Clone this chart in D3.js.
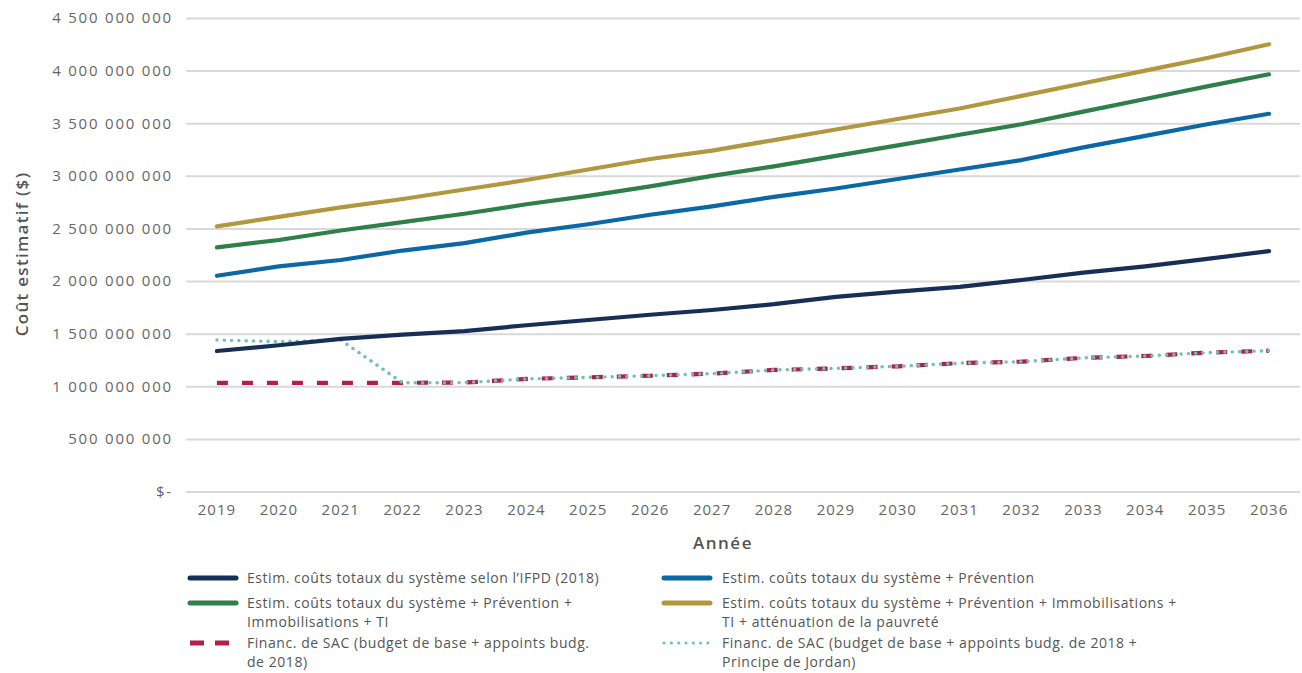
<!DOCTYPE html>
<html><head><meta charset="utf-8">
<script src="https://cdn.jsdelivr.net/npm/d3@7"></script>
<style>body{margin:0;background:#fff;}svg{display:block;font-family:"Open Sans",sans-serif;}</style>
</head><body><svg id="c" width="1302" height="673"></svg>
<script>
const years = [2019,2020,2021,2022,2023,2024,2025,2026,2027,2028,2029,2030,2031,2032,2033,2034,2035,2036];
const yTicks = [0,500e6,1000e6,1500e6,2000e6,2500e6,3000e6,3500e6,4000e6,4500e6];
const ifpd = [1.335,1.39,1.45,1.49,1.525,1.58,1.63,1.68,1.725,1.78,1.85,1.90,1.945,2.01,2.08,2.14,2.21,2.285];
const prev = [2.05,2.14,2.20,2.29,2.36,2.46,2.54,2.63,2.71,2.80,2.88,2.97,3.06,3.15,3.27,3.38,3.49,3.59];
const prevImmo = [2.32,2.39,2.48,2.56,2.64,2.73,2.81,2.90,3.00,3.09,3.19,3.29,3.39,3.49,3.61,3.73,3.85,3.965];
const prevImmoPauv = [2.52,2.61,2.70,2.78,2.87,2.96,3.06,3.16,3.24,3.34,3.44,3.54,3.64,3.76,3.88,4.00,4.12,4.25];
const sac = [1.033,1.033,1.033,1.033,1.035,1.07,1.085,1.10,1.12,1.155,1.17,1.19,1.22,1.234,1.27,1.288,1.32,1.338];
const sacJordan = [1.44,1.425,1.44,1.033,1.035,1.07,1.085,1.10,1.12,1.155,1.17,1.19,1.22,1.234,1.27,1.288,1.32,1.338];
const seriesNames = [
  "Estim. coûts totaux du système selon l’IFPD (2018)",
  "Estim. coûts totaux du système + Prévention",
  "Estim. coûts totaux du système + Prévention + Immobilisations + TI",
  "Estim. coûts totaux du système + Prévention + Immobilisations + TI + atténuation de la pauvreté",
  "Financ. de SAC (budget de base + appoints budg. de 2018)",
  "Financ. de SAC (budget de base + appoints budg. de 2018 + Principe de Jordan)"
];

const series = [
  {name:seriesNames[0], vals:ifpd, color:"#172f57", dash:null, w:4.2},
  {name:seriesNames[1], vals:prev, color:"#0b68a6", dash:null, w:4.2},
  {name:seriesNames[2], vals:prevImmo, color:"#2f7f4a", dash:null, w:4.2},
  {name:seriesNames[3], vals:prevImmoPauv, color:"#b3973f", dash:null, w:4.2},
  {name:seriesNames[4], vals:sac, color:"#b31e4a", dash:"11,14", w:4.2},
  {name:seriesNames[5], vals:sacJordan, color:"#6cc1b3", dash:"0.1,7.2", w:3.4, dot:true}
];

const svg = d3.select("#c");
const x = d3.scaleBand().domain(years).range([186,1300]);
const y = d3.scaleLinear().domain([0,4500e6]).range([491.5,18]);
const fmt = v => v===0 ? "$-" : d3.format(",")(v).replace(/,/g," ");

const yAxis = d3.axisLeft(y).tickValues(yTicks).tickSize(-(1300-186)).tickFormat(fmt).tickPadding(13);
const gy = svg.append("g").attr("transform","translate(186,0)").call(yAxis);
gy.select(".domain").remove();
gy.selectAll(".tick line").attr("stroke","#d9d9d9").attr("stroke-width",2);
gy.selectAll(".tick text").attr("fill","#666").style("font-size","15px").style("font-family","'Open Sans', sans-serif").style("letter-spacing","1.8px");

const xAxis = d3.axisBottom(x).tickSize(0).tickPadding(6);
const gx = svg.append("g").attr("transform","translate(0,498)").call(xAxis);
gx.select(".domain").remove();
gx.selectAll(".tick text").attr("fill","#666").style("font-size","15px").style("font-family","'Open Sans', sans-serif").style("letter-spacing","1px");

svg.append("text").attr("transform","translate(28,254) rotate(-90)").attr("text-anchor","middle")
  .attr("fill","#555").style("font-size","17px").style("font-weight","600").style("letter-spacing","1.3px").text("Coût estimatif ($)");
svg.append("text").attr("x",723).attr("y",549).attr("text-anchor","middle")
  .attr("fill","#555").style("font-size","17px").style("font-weight","600").style("letter-spacing","1.5px").text("Année");

const line = d3.line().x((d,i)=>x(years[i])+x.bandwidth()/2).y(d=>y(d*1e9));
const drawOrder = [4,5,0,1,2,3];
drawOrder.forEach(k=>{
  const s = series[k];
  svg.append("path").datum(s.vals).attr("d",line).attr("fill","none")
    .attr("stroke",s.color).attr("stroke-width",s.w)
    .attr("stroke-linecap", s.dot? "round" : (s.dash? "butt":"round"))
    .attr("stroke-linejoin","round")
    .attr("stroke-dasharray", s.dash);
});

const legendPos = [
  {sx:190, tx:247, y:578, lines:["Estim. coûts totaux du système selon l’IFPD (2018)"]},
  {sx:664, tx:722, y:578, lines:["Estim. coûts totaux du système + Prévention"]},
  {sx:190, tx:247, y:603, lines:["Estim. coûts totaux du système + Prévention +","Immobilisations + TI"]},
  {sx:664, tx:722, y:603, lines:["Estim. coûts totaux du système + Prévention + Immobilisations +","TI + atténuation de la pauvreté"]},
  {sx:190, tx:247, y:643, lines:["Financ. de SAC (budget de base + appoints budg.","de 2018)"]},
  {sx:664, tx:722, y:643, lines:["Financ. de SAC (budget de base + appoints budg. de 2018 +","Principe de Jordan)"]}
];
legendPos.forEach((p,k)=>{
  const s = series[k];
  const g = svg.append("g");
  g.append("line").attr("x1",p.sx).attr("x2",p.sx+46).attr("y1",p.y).attr("y2",p.y)
    .attr("stroke",s.color).attr("stroke-width",s.dot?3:5)
    .attr("stroke-linecap", s.dot? "round" : (s.dash? "butt":"round"))
    .attr("stroke-dasharray", s.dash ? (s.dot? "0.1,7.2" : "14,11") : null);
  p.lines.forEach((l,i)=> g.append("text").attr("x",p.tx).attr("y",p.y+5+i*19.3).attr("fill","#555")
    .style("font-size","14px").style("letter-spacing","0.55px").text(l));
});
</script></body></html>
